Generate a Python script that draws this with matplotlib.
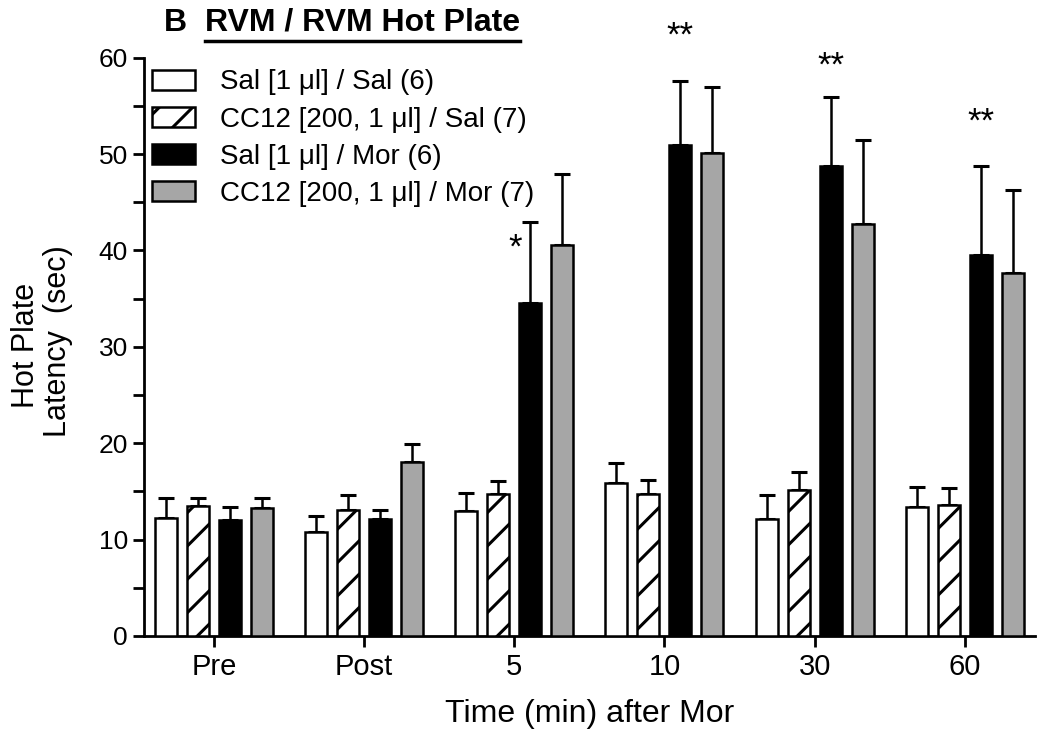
import numpy as np
import matplotlib
matplotlib.use('Agg')
import matplotlib.pyplot as plt
from matplotlib.lines import Line2D

plt.rcParams['font.family'] = ['Liberation Sans', 'DejaVu Sans']
plt.rcParams['hatch.linewidth'] = 2.2

# Données
groups = ['Pre', 'Post', '5', '10', '30', '60']
labels = ['Sal [1 \u03bcl] / Sal (6)',
          'CC12 [200, 1 \u03bcl] / Sal (7)',
          'Sal [1 \u03bcl] / Mor (6)',
          'CC12 [200, 1 \u03bcl] / Mor (7)']

sal_sal = [12.2, 10.8, 13.0, 15.9, 12.1, 13.4]
sal_sal_sem = [2.1, 1.6, 1.8, 2.0, 2.5, 2.1]
cc_sal = [13.5, 13.1, 14.7, 14.7, 15.1, 13.6]
cc_sal_sem = [0.8, 1.5, 1.4, 1.5, 1.9, 1.8]
sal_mor = [12.0, 12.1, 34.5, 50.9, 48.8, 39.5]
sal_mor_sem = [1.4, 1.0, 8.5, 6.7, 7.1, 9.3]
cc_mor = [13.3, 18.1, 40.6, 50.1, 42.7, 37.7]
cc_mor_sem = [1.0, 1.8, 7.3, 6.9, 8.8, 8.6]

# significativité (Sal/Mor vs Sal/Sal)
stars = ['', '', '*', '**', '**', '**']
star_y = [0, 0, 40.2, 62.2, 59.1, 53.3]

means = [sal_sal, cc_sal, sal_mor, cc_mor]
sems = [sal_sal_sem, cc_sal_sem, sal_mor_sem, cc_mor_sem]
colors = ['white', 'white', 'black', '#a6a6a6']
hatches = ['', '/', '', '']

fig = plt.figure(figsize=(10.5, 7.31), dpi=100)
ax = fig.add_axes([0.137, 0.130, 0.849, 0.791])

x = np.arange(len(groups))
width = 0.147
step = 0.213
for i in range(4):
    xs = x + (i - 1.5) * step
    ax.bar(xs, means[i], width, color=colors[i], edgecolor='black',
           linewidth=1.8, hatch=hatches[i], label=labels[i], zorder=3)
    ax.errorbar(xs, means[i], yerr=[np.zeros(len(groups)), sems[i]], fmt='none',
                ecolor='black', elinewidth=1.8, capsize=6, capthick=2.2, zorder=2)

for j, s in enumerate(stars):
    if s:
        ax.text(x[j] + 0.5 * step - (0.1 if s == '*' else 0), star_y[j], s,
                ha='center', va='center', fontsize=25, clip_on=False)

ax.set_xlim(-0.467, 5.47)
ax.set_ylim(0, 60)
ax.set_xticks(x)
ax.set_xticklabels(groups, fontsize=21)
ax.set_yticks(np.arange(0, 61, 10))
ax.set_yticks(np.arange(5, 60, 10), minor=True)
ax.tick_params(axis='y', labelsize=19, width=2, length=8)
ax.tick_params(axis='y', which='minor', width=2, length=8)
ax.tick_params(axis='x', width=2, length=8, pad=4.5)
for sp in ['top', 'right']:
    ax.spines[sp].set_visible(False)
for sp in ['left', 'bottom']:
    ax.spines[sp].set_linewidth(2)

ax.set_xlabel('Time (min) after Mor', fontsize=23, labelpad=13)
fig.text(0.025, 0.528, 'Hot Plate', rotation=90, fontsize=22, ha='center', va='center')
fig.text(0.055, 0.533, 'Latency  (sec)', rotation=90, fontsize=22, ha='center', va='center')

ax.legend(loc='upper left', bbox_to_anchor=(0.145, 0.905), bbox_transform=fig.transFigure,
          frameon=False, fontsize=20, handlelength=1.55, handleheight=0.72,
          handletextpad=0.9, labelspacing=0.4, borderpad=0, borderaxespad=0)

# Titre souligné
fig.text(0.156, 0.969, 'B', fontsize=23, fontweight='bold', ha='left', va='center')
t = fig.text(0.195, 0.969, 'RVM / RVM Hot Plate', fontsize=23, fontweight='bold',
             ha='left', va='center')
fig.canvas.draw()
bb = t.get_window_extent().transformed(fig.transFigure.inverted())
fig.add_artist(Line2D([bb.x0, bb.x1], [bb.y0 - 0.004, bb.y0 - 0.004],
                      transform=fig.transFigure, color='black', linewidth=2.5))

fig.savefig('out.png', dpi=100)
